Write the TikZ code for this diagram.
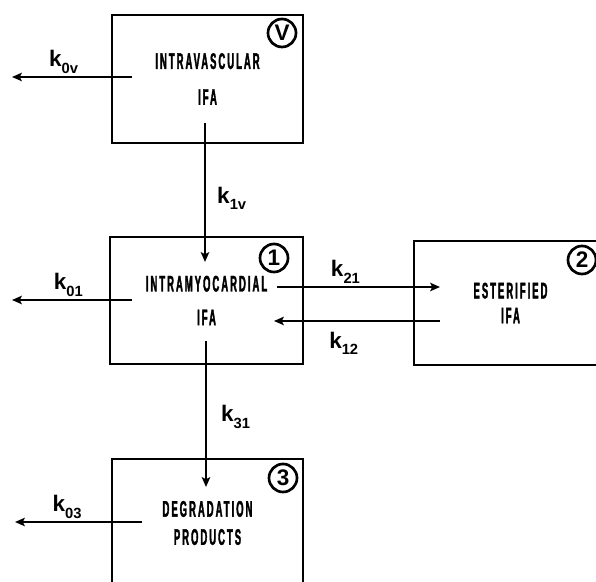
\documentclass[tikz,border=0pt]{standalone}
\usepackage{fontspec}
\setmainfont{Liberation Sans}
\newfontfamily\boxfont[UprightFont={* Bold},FakeStretch=0.42,LetterSpace=9,FakeBold=1.6]{Liberation Sans}
\usetikzlibrary{arrows.meta,positioning}

\newcommand{\rate}[1]{{\fontsize{16}{16}\selectfont\bfseries k}\raisebox{-4.5pt}{\fontsize{10.5}{10.5}\selectfont\bfseries #1}}

\begin{document}
\begin{tikzpicture}[x=0.025cm,y=0.025cm,
  comp/.style={draw,line width=1.4pt,minimum width=4.8cm,minimum height=3.2cm,inner sep=0pt,align=center,font=\boxfont\fontsize{16}{17.7}\selectfont},
  tag/.style={draw,circle,line width=1.9pt,minimum size=0.7cm,inner sep=0pt,font=\fontsize{16}{16}\selectfont\bfseries},
  flow/.style={line width=1.4pt,-{Stealth[length=7pt,width=6pt,inset=1.5pt]}},
  rate/.style={inner sep=1pt}]
\useasboundingbox (0,0) rectangle (596,582);
\clip (0,0) rectangle (596,582);

% compartments
\node[comp,minimum width=4.775cm,minimum height=3.2cm] (vasc) at (207.5,503) {INTRAVASCULAR\\[7.8pt]IFA};
\node[comp,minimum width=4.825cm,minimum height=3.175cm] (myo) at (206.5,281.5) {INTRAMYOCARDIAL\\[6.3pt]IFA};
\node[comp,minimum width=4.825cm,minimum height=3.1cm] (ester) at (510.5,279) {ESTERIFIED\\IFA};
\node[comp,minimum width=4.775cm,minimum height=3.2cm] (degr) at (207.5,59) {DEGRADATION\\[2.3pt]PRODUCTS};

% compartment numbers
\node[tag] (vtag) at (282,549) {V};
\node[tag] (tag1) at (274,324) {1};
\node[tag] (tag2) at (582,322) {2};
\node[tag] (tag3) at (283,104) {3};

% fluxes
\coordinate (vout) at (132,505);
\coordinate (vleft) at (12,505);
\coordinate (vdown) at (205,459);
\coordinate (myoin) at (205,320);
\coordinate (myoout) at (132,282);
\coordinate (myoleft) at (12,282);
\coordinate (myoright) at (277,295);
\coordinate (esterin) at (440,295);
\coordinate (esterout) at (440,261);
\coordinate (myoback) at (274,261);
\coordinate (myodown) at (206,241);
\coordinate (degrin) at (206,95);
\coordinate (degrout) at (142,60);
\coordinate (degrleft) at (15,60);

\draw[flow] (vout) -- node[rate,above=1pt,pos=0.57] (kov) {\rate{0v}} (vleft);
\draw[flow] (vdown) -- node[rate,right=7pt,pos=0.54] (k1v) {\rate{1v}} (myoin);
\draw[flow] (myoout) -- node[rate,above=1pt,pos=0.53] (k01) {\rate{01}} (myoleft);
\draw[flow] (myoright) -- node[rate,above=1pt,pos=0.42] (k21) {\rate{21}} (esterin);
\draw[flow] (esterout) -- node[rate,below=6pt,pos=0.58] (k12) {\rate{12}} (myoback);
\draw[flow] (myodown) -- node[rate,right=9pt,pos=0.52] (k31) {\rate{31}} (degrin);
\draw[flow] (degrout) -- node[rate,above=1pt,pos=0.59] (k03) {\rate{03}} (degrleft);
\end{tikzpicture}
\end{document}
